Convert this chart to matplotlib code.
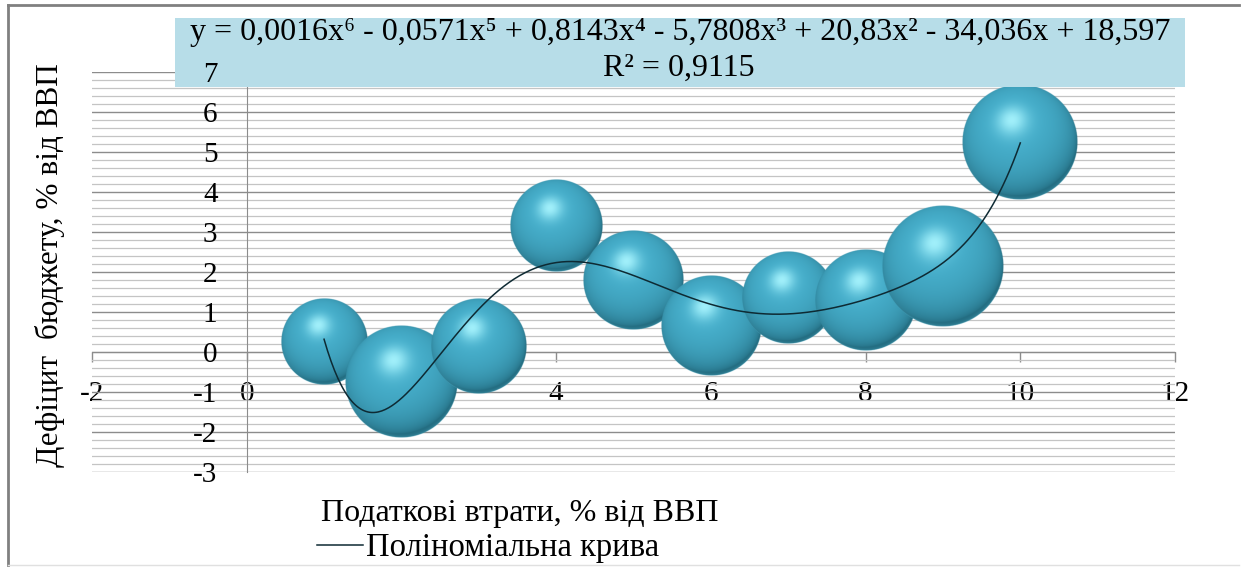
import numpy as np
import matplotlib
matplotlib.use('Agg')
import matplotlib.pyplot as plt
from matplotlib.patches import Rectangle
from matplotlib.lines import Line2D

plt.rcParams['font.family'] = ['Liberation Serif', 'DejaVu Serif']
plt.rcParams['axes.unicode_minus'] = False

# tax losses (% of GDP), budget deficit (% of GDP), bubble magnitude
tax_loss = [1, 2, 3, 4, 5, 6, 7, 8, 9, 10]
deficit = [0.25, -0.75, 0.15, 3.15, 1.8, 0.65, 1.35, 1.3, 2.15, 5.25]
bubble_size = [18.5, 31.4, 23.0, 21.2, 25.0, 25.0, 21.2, 26.0, 37.2, 33.6]

x_ticks = [-2, 0, 2, 4, 6, 8, 10, 12]
y_ticks = [-3, -2, -1, 0, 1, 2, 3, 4, 5, 6, 7]

equation = 'y = 0,0016x⁶ - 0,0571x⁵ + 0,8143x⁴ - 5,7808x³ + 20,83x² - 34,036x + 18,597'
r_squared = 'R² = 0,9115'
x_title = 'Податкові втрати, % від ВВП'
y_title = 'Дефіцит  бюджету, % від ВВП'
trend_name = 'Поліноміальна крива'

DPI = 100


def sphere_image(n=240):
    # shaded ball: dark lower right, bright spot upper left, lighter bottom rim
    u = np.linspace(-1, 1, n)
    U, V = np.meshgrid(u, u)
    rho = np.sqrt(U ** 2 + V ** 2)
    Z = np.sqrt(np.clip(1 - rho ** 2, 0, 1))
    L = np.array([-0.14, 0.38, 0.915])
    L = L / np.linalg.norm(L)
    d = np.clip(U * L[0] + V * L[1] + Z * L[2], 0, 1)
    dark = np.array([32, 104, 124]) / 255
    mid = np.array([72, 178, 207]) / 255
    hi = np.array([170, 246, 255]) / 255
    rimc = np.array([95, 196, 222]) / 255
    img = dark + (mid - dark) * (d ** 0.6)[..., None]
    spec = (d ** 28)[..., None]
    img = img + (hi - img) * spec * 0.9
    rim = ((1 - Z) ** 5 * np.clip(-V * 1.3, 0, 1))[..., None]
    img = img + (rimc - img) * rim * 0.7
    alpha = np.clip((1 - rho) * n / 2.5, 0, 1)
    return np.dstack([np.clip(img, 0, 1), alpha])


fig = plt.figure(figsize=(12.43, 5.67), dpi=DPI)
ax = fig.add_axes([0.074, 0.1675, 0.8713, 0.7055])
x_lim, y_lim = (-2, 12), (-3, 7)

# horizontal grid: major every 1, minor every 0.2
ax.set_yticks(y_ticks)
ax.set_yticks(np.arange(-3, 7.01, 0.2), minor=True)
ax.grid(axis='y', which='major', color='#8c8c8c', lw=1.0)
ax.grid(axis='y', which='minor', color='#c4c4c4', lw=0.9)
ax.set_axisbelow(True)
ax.tick_params(axis='y', which='both', length=0, labelleft=False)

ax.set_xticks(x_ticks)
ax.tick_params(axis='x', length=7, width=1, color='#8c8c8c', pad=14, labelsize=21)
for s in ['top', 'right']:
    ax.spines[s].set_visible(False)
ax.spines['left'].set_position(('data', 0))
ax.spines['bottom'].set_position(('data', 0))
ax.spines['left'].set_color('#8c8c8c')
ax.spines['bottom'].set_color('#8c8c8c')

# bubbles as shaded balls; pixel radius from bubble magnitude
px_x = ax.bbox.width / (x_lim[1] - x_lim[0])
px_y = ax.bbox.height / (y_lim[1] - y_lim[0])
ball = sphere_image()
for k, (xv, yv, sv) in enumerate(zip(tax_loss, deficit, bubble_size)):
    r = 10 * np.sqrt(sv)
    hx, hy = r / px_x, r / px_y
    ax.imshow(ball, extent=(xv - hx, xv + hx, yv - hy, yv + hy), origin='lower',
              aspect='auto', interpolation='antialiased', zorder=3 + k * 0.01)

# 6th order polynomial trend of the series
coeffs = np.polyfit(tax_loss, deficit, 6)
xs = np.linspace(min(tax_loss), max(tax_loss), 400)
trend, = ax.plot(xs, np.polyval(coeffs, xs), color='#0e2a33', lw=1.1, zorder=4)
ax.set_xlim(*x_lim)
ax.set_ylim(*y_lim)

# equation box
ax.add_patch(Rectangle((0.1408, 0.8466), 0.8125, 0.1217, transform=fig.transFigure,
                       facecolor='#b7dde8', edgecolor='none', clip_on=False, zorder=4.5))
ax.text(0.547, 0.943, equation, transform=fig.transFigure, ha='center', va='center',
        fontsize=23, zorder=4.6)
ax.text(0.546, 0.879, r_squared, transform=fig.transFigure, ha='center', va='center',
        fontsize=23, zorder=4.6)

# value labels of the vertical axis, kept above the box
sec = ax.secondary_yaxis(2 / 14)
sec.set_zorder(6)
sec.spines['left'].set_visible(False)
sec.set_yticks(y_ticks)
sec.tick_params(axis='y', length=0, pad=21, labelsize=21)

ax.set_xlabel(x_title, fontsize=23)
ax.xaxis.set_label_coords(0.395, -0.1025)
ax.xaxis.label.set_va('center')
ax.set_ylabel(y_title, fontsize=22.5)
ax.yaxis.set_label_coords(-0.0388, 0.5175)
ax.yaxis.label.set_va('center')

ax.legend([trend], [trend_name], loc='center left', bbox_to_anchor=(0.255, 0.034),
          bbox_transform=fig.transFigure, frameon=False, fontsize=23.5,
          handlelength=1.4, handletextpad=0.1, borderpad=0, borderaxespad=0)

# outer frame
fig.add_artist(Line2D([0.0065, 0.997], [0.991, 0.991], color='#808080', lw=2))
fig.add_artist(Line2D([0.0065, 0.0065], [0.004, 0.991], color='#808080', lw=2))
fig.add_artist(Line2D([0.0065, 0.997], [0.004, 0.004], color='#e0e0e0', lw=1))

fig.savefig('out.png', dpi=DPI)
